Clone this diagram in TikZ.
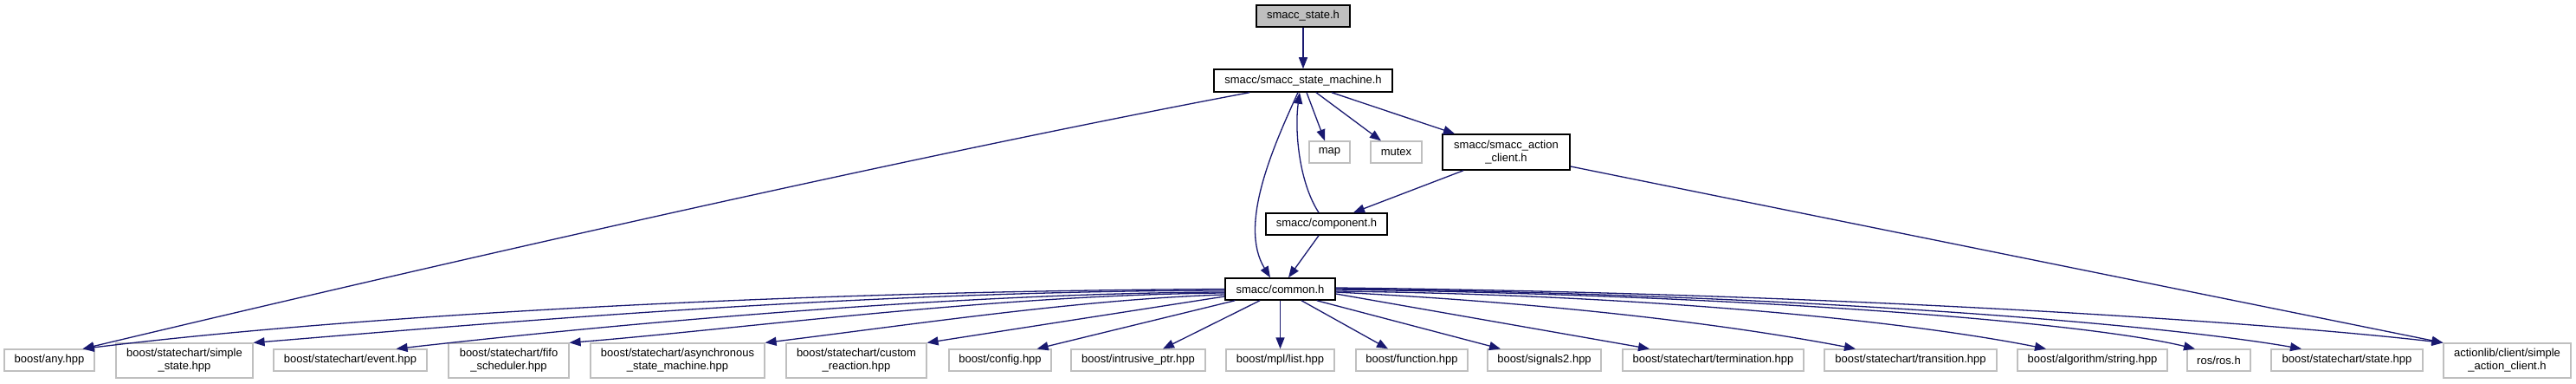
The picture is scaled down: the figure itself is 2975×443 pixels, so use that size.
\documentclass[tikz,border=0pt]{standalone}
\usepackage{fontspec}
\setmainfont{Liberation Sans}
\usetikzlibrary{arrows.meta}
\definecolor{edgec}{HTML}{191970}
\definecolor{grayb}{HTML}{BFBFBF}
\definecolor{grayf}{HTML}{BFBFBF}
\begin{document}
\begin{tikzpicture}[x=1pt,y=-1pt,
  box/.style={inner sep=0pt, font=\fontsize{13}{15}\selectfont, align=center, anchor=center},
  own/.style={box, draw=black, line width=1.5pt},
  ext/.style={box, draw=grayb, line width=1.2pt},
  one/.style={minimum height=25pt},
  two/.style={minimum height=40pt},
  edge/.style={draw=edgec, line width=1.3pt, -{Triangle[length=13pt,width=10pt]}}]
\useasboundingbox (0,0) rectangle (2975,443);
% top part
\node[own, fill=grayf, one, minimum width=108pt] (st) at (1505,18.5) {smacc\_state.h};
\node[own, minimum height=26pt, minimum width=206pt] (sm) at (1505,93) {smacc/smacc\_state\_machine.h};
\node[ext, one, minimum width=47pt] (map) at (1535.5,175.5) {map};
\node[ext, one, minimum width=59pt] (mutex) at (1612.5,175.5) {mutex};
\node[own, minimum height=41pt, minimum width=147pt] (ac) at (1739.5,175.5) {smacc/smacc\_action\\\_client.h};
\node[own, one, minimum width=140pt] (comp) at (1532,258.5) {smacc/component.h};
\node[own, one, minimum width=127pt] (common) at (1478.5,333.5) {smacc/common.h};
% bottom row
\node[ext, one, minimum width=104pt] (any) at (57,415.5) {boost/any.hpp};
\node[ext, two, minimum width=158pt] (simple) at (213,416) {boost/statechart/simple\\\_state.hpp};
\node[ext, one, minimum width=177pt] (event) at (404.5,415.5) {boost/statechart/event.hpp};
\node[ext, two, minimum width=139pt] (fifo) at (587.5,416) {boost/statechart/fifo\\\_scheduler.hpp};
\node[ext, two, minimum width=201pt] (async) at (782.5,416) {boost/statechart/asynchronous\\\_state\_machine.hpp};
\node[ext, two, minimum width=162pt] (custom) at (989,416) {boost/statechart/custom\\\_reaction.hpp};
\node[ext, one, minimum width=118pt] (config) at (1155,415.5) {boost/config.hpp};
\node[ext, one, minimum width=155pt] (intr) at (1314.5,415.5) {boost/intrusive\_ptr.hpp};
\node[ext, one, minimum width=125pt] (mpl) at (1478.5,415.5) {boost/mpl/list.hpp};
\node[ext, one, minimum width=129pt] (func) at (1630.5,415.5) {boost/function.hpp};
\node[ext, one, minimum width=131pt] (sig) at (1783.5,415.5) {boost/signals2.hpp};
\node[ext, one, minimum width=209pt] (term) at (1978.5,415.5) {boost/statechart/termination.hpp};
\node[ext, one, minimum width=199pt] (trans) at (2206.5,415.5) {boost/statechart/transition.hpp};
\node[ext, one, minimum width=173pt] (algo) at (2416.5,415.5) {boost/algorithm/string.hpp};
\node[ext, one, minimum width=73pt] (ros) at (2562.5,415.5) {ros/ros.h};
\node[ext, one, minimum width=175pt] (sth) at (2710.5,415.5) {boost/statechart/state.hpp};
\node[ext, two, minimum width=147pt] (alib) at (2895.5,416) {actionlib/client/simple\\\_action\_client.h};
% edges top
\draw[edge] (st) -- (sm);
\draw[edge] ([xshift=-62pt]sm.south) .. controls (1000,190) and (400,330) .. ([xshift=-14pt]any.north east);
\draw[edge] ([xshift=-6pt]sm.south) .. controls (1470,170) and (1430,260) .. ([xshift=-11.5pt]common.north);
\draw[edge] ([xshift=-9pt]comp.north) .. controls (1500,210) and (1495,150) .. ([xshift=-4pt]sm.south);
\draw[edge] ([xshift=4pt]sm.south) -- ([xshift=-5.5pt]map.north);
\draw[edge] ([xshift=15pt]sm.south) -- ([xshift=-17.5pt]mutex.north);
\draw[edge] ([xshift=33pt]sm.south) -- ([xshift=-59.5pt]ac.north);
\draw[edge] ([xshift=-49.5pt]ac.south) -- ([xshift=31pt]comp.north);
\draw[edge] ([yshift=-16.5pt]ac.east) -- (alib.north west);
\draw[edge] ([xshift=-9pt]comp.south) -- ([xshift=9.5pt]common.north);
% edges from common.h, left
\draw[edge] (common.west) .. controls (900,336) and (400,365) .. ([xshift=-14pt]any.north east);
\draw[edge] ([yshift=-1.5pt]common.west) .. controls (1000,336) and (600,370) .. (simple.north east);
\draw[edge] ([yshift=-3.5pt]common.west) .. controls (1100,338) and (700,375) .. ([xshift=-36pt]event.north east);
\draw[edge] ([yshift=-4.5pt]common.west) .. controls (1150,340) and (850,380) .. (fifo.north east);
\draw[edge] ([yshift=-6.5pt]common.west) .. controls (1250,345) and (1050,375) .. (async.north east);
\draw[edge] ([yshift=-8.5pt]common.west) -- (custom.north east);
\draw[edge] ([xshift=12pt]common.south west) -- ([xshift=-17pt]config.north east);
\draw[edge] ([xshift=-23.5pt]common.south) -- ([xshift=28.5pt]intr.north);
\draw[edge] (common.south) -- (mpl.north);
% edges from common.h, right
\draw[edge] ([xshift=24.5pt]common.south) -- ([xshift=-27.5pt]func.north);
\draw[edge] ([xshift=-22pt]common.south east) -- ([xshift=-50.5pt]sig.north);
\draw[edge] ([yshift=-5.5pt]common.east) -- ([xshift=-73.5pt]term.north);
\draw[edge] ([yshift=-3.5pt]common.east) .. controls (1800,350) and (2000,375) .. ([xshift=-63.5pt]trans.north);
\draw[edge] ([yshift=-2.5pt]common.east) .. controls (1900,340) and (2200,370) .. ([xshift=-53.5pt]algo.north);
\draw[edge] ([yshift=-0.5pt]common.east) .. controls (2000,340) and (2400,370) .. ([xshift=-27.5pt]ros.north);
\draw[edge] ([yshift=0.5pt]common.east) .. controls (2100,340) and (2500,375) .. ([xshift=-52.5pt]sth.north);
\draw[edge] ([yshift=1.5pt]common.east) .. controls (2100,338) and (2600,370) .. (alib.north west);
\end{tikzpicture}
\end{document}
